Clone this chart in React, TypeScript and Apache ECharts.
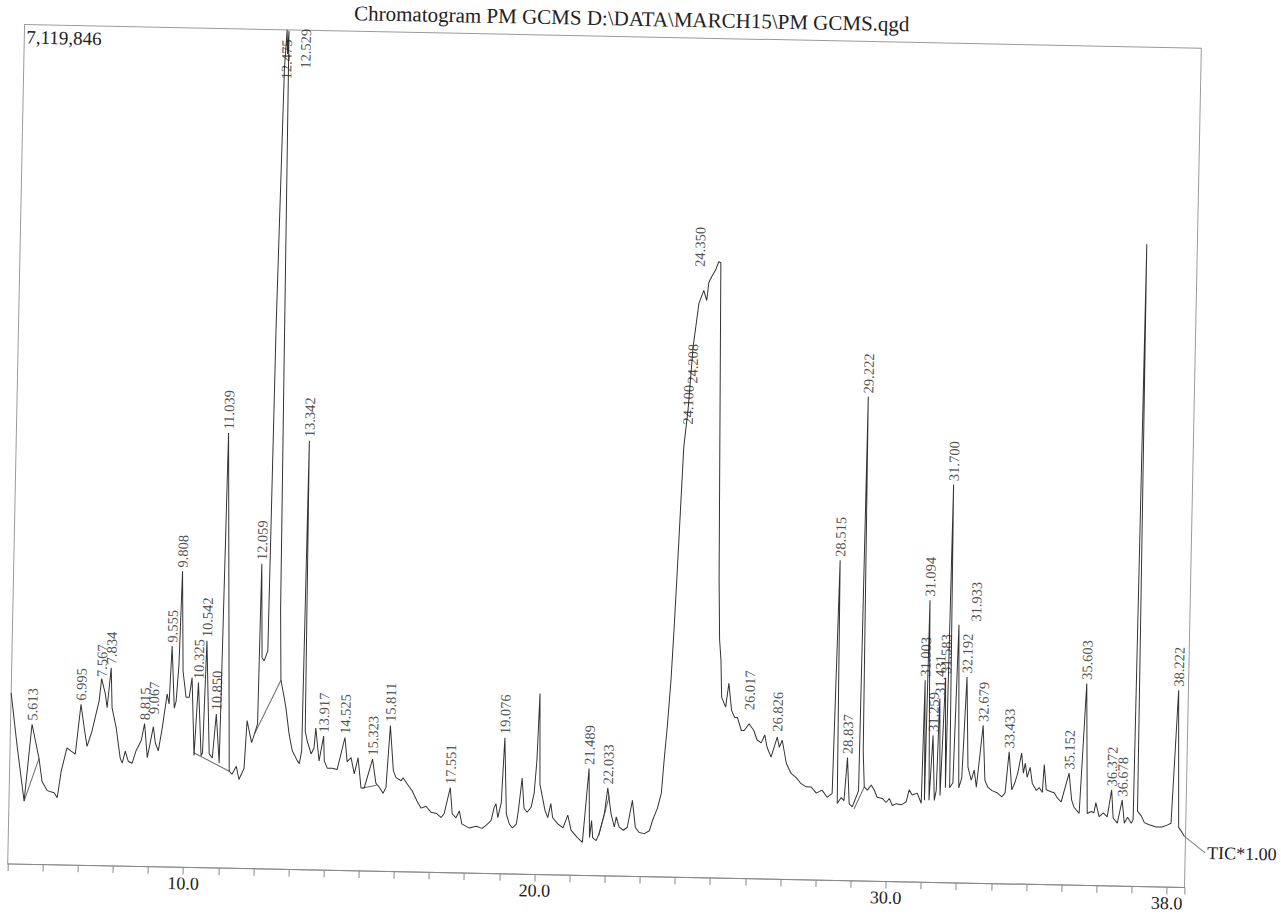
import { useEffect, useRef } from "react";
import * as echarts from "echarts";

const CHART_TITLE = "Chromatogram PM GCMS D:\\DATA\\MARCH15\\PM GCMS.qgd";
const FULL_SCALE = 7119846;
const FULL_SCALE_TEXT = "7,119,846";
const TRACE_NAME = "TIC*1.00";
const X_MIN = 5;
const X_MAX = 38.5;
const X_LABELED_TICKS = [10, 20, 30, 38];

// retention time (min)
const traceTimes = [
  5.0, 5.2, 5.43, 5.613, 5.83, 5.93, 6.08, 6.28, 6.37, 6.47, 6.62, 6.74, 6.86, 6.995, 7.1, 7.19, 7.32, 7.51, 7.567, 7.68,
  7.74, 7.834, 7.88, 8.01, 8.14, 8.2, 8.28, 8.37, 8.48, 8.59, 8.73, 8.815, 8.91, 9.067, 9.13, 9.22, 9.32, 9.44, 9.5, 9.555,
  9.65, 9.7, 9.76, 9.808, 9.88, 9.98, 10.07, 10.14, 10.24, 10.325, 10.44, 10.48, 10.542, 10.67, 10.76, 10.85, 10.96, 11.039, 11.25, 11.33,
  11.45, 11.53, 11.67, 11.73, 11.87, 11.95, 12.03, 12.059, 12.12, 12.18, 12.28, 12.33, 12.42, 12.475, 12.5, 12.529, 12.58, 12.62, 12.67, 12.77,
  12.83, 12.93, 13.03, 13.18, 13.24, 13.3, 13.342, 13.39, 13.45, 13.57, 13.65, 13.69, 13.8, 13.917, 13.95, 14.04, 14.18, 14.32, 14.525, 14.6,
  14.71, 14.81, 14.91, 15.01, 15.1, 15.323, 15.43, 15.53, 15.64, 15.72, 15.811, 15.92, 16.0, 16.15, 16.2, 16.32, 16.47, 16.61, 16.73, 16.87,
  17.02, 17.17, 17.31, 17.39, 17.551, 17.62, 17.73, 17.82, 17.9, 18.11, 18.31, 18.48, 18.62, 18.73, 18.81, 18.86, 18.92, 19.01, 19.076, 19.16,
  19.25, 19.34, 19.45, 19.5, 19.59, 19.66, 19.75, 19.86, 19.94, 20.0, 20.05, 20.1, 20.26, 20.34, 20.42, 20.48, 20.63, 20.78, 20.91, 21.01,
  21.19, 21.34, 21.489, 21.54, 21.59, 21.63, 21.73, 21.81, 21.95, 22.033, 22.14, 22.24, 22.29, 22.38, 22.5, 22.61, 22.74, 22.84, 22.95, 23.1,
  23.24, 23.32, 23.46, 23.56, 23.62, 23.69, 23.77, 23.83, 23.88, 24.0, 24.1, 24.208, 24.35, 24.48, 24.57, 24.62, 24.7, 24.81, 24.89, 24.95,
  25.08, 25.13, 25.18, 25.22, 25.34, 25.42, 25.51, 25.6, 25.68, 25.8, 25.88, 26.017, 26.16, 26.25, 26.37, 26.47, 26.54, 26.66, 26.826, 26.89,
  26.97, 27.1, 27.24, 27.39, 27.53, 27.68, 27.82, 27.97, 28.13, 28.28, 28.42, 28.515, 28.57, 28.68, 28.76, 28.837, 28.91, 29.0, 29.17, 29.222,
  29.28, 29.33, 29.42, 29.53, 29.62, 29.7, 29.85, 29.96, 30.05, 30.14, 30.25, 30.39, 30.53, 30.61, 30.7, 30.84, 30.96, 31.003, 31.05, 31.094,
  31.18, 31.259, 31.33, 31.38, 31.431, 31.49, 31.583, 31.64, 31.7, 31.76, 31.85, 31.933, 32.02, 32.1, 32.192, 32.27, 32.37, 32.45, 32.52, 32.679,
  32.76, 32.85, 32.97, 33.11, 33.25, 33.34, 33.433, 33.53, 33.61, 33.69, 33.79, 33.85, 33.9, 33.96, 34.04, 34.11, 34.23, 34.31, 34.4, 34.44,
  34.51, 34.65, 34.74, 34.83, 34.94, 35.152, 35.24, 35.31, 35.46, 35.603, 35.69, 35.8, 35.88, 35.93, 36.03, 36.15, 36.26, 36.372, 36.43, 36.55,
  36.678, 36.75, 36.84, 36.95, 37.0, 37.06, 37.12, 37.23, 37.32, 37.46, 37.66, 37.83, 37.97, 38.08, 38.222, 38.3, 38.4, 38.47,
];

// total ion current, thousands of counts
const traceKCounts = [
  1451, 1001, 535, 1188, 900, 704, 628, 611, 569, 798, 993, 967, 942, 1366, 1163, 1010, 1137, 1400, 1587, 1460,
  1341, 1680, 1341, 1171, 916, 874, 976, 891, 874, 984, 1069, 1213, 925, 1188, 1052, 984, 1180, 1468, 1383, 1875,
  1349, 1409, 1723, 2512, 1663, 1443, 1443, 1612, 950, 1570, 950, 976, 1926, 967, 933, 1307, 891, 3691, 823, 798,
  866, 755, 849, 1256, 1069, 1146, 1230, 2588, 1791, 1765, 1850, 4582, 6789, 7119.8, 6916, 7111, 4243, 2206, 1604, 1460,
  1366, 1154, 1010, 925, 900, 1010, 3640, 1180, 1095, 984, 1035, 1205, 925, 1137, 925, 866, 866, 857, 1129, 925,
  959, 823, 959, 704, 704, 950, 747, 713, 662, 713, 1239, 857, 798, 772, 798, 747, 687, 603, 543, 560,
  509, 501, 467, 501, 721, 501, 467, 526, 416, 382, 399, 382, 416, 450, 560, 594, 475, 603, 1154, 509,
  424, 390, 424, 535, 815, 560, 526, 569, 687, 967, 1536, 764, 543, 484, 603, 484, 433, 399, 509, 382,
  322, 280, 908, 322, 467, 322, 297, 356, 526, 747, 526, 416, 501, 416, 390, 416, 645, 416, 373, 365,
  390, 475, 586, 713, 993, 1273, 1672, 2122, 2546, 3649, 3963, 4498, 4871, 4981, 4896, 5049, 5100, 5160, 5227, 5219,
  2546, 2020, 1850, 1536, 1451, 1655, 1426, 1366, 1366, 1256, 1256, 1315, 1256, 1180, 1154, 1222, 1120, 1035, 1205, 1120,
  1180, 984, 900, 866, 815, 789, 789, 738, 764, 704, 738, 2716, 653, 704, 679, 1044, 653, 628, 764, 4107,
  1103, 798, 772, 815, 772, 713, 704, 670, 704, 645, 662, 653, 679, 781, 738, 755, 670, 1714, 696, 2393,
  696, 1247, 696, 781, 1561, 738, 1740, 806, 3377, 806, 849, 2189, 806, 891, 1748, 984, 874, 959, 815, 1341,
  874, 815, 789, 772, 738, 772, 1120, 798, 857, 942, 1112, 942, 1027, 908, 993, 857, 798, 823, 781, 1018,
  806, 789, 781, 738, 704, 950, 721, 662, 611, 1714, 611, 628, 619, 704, 586, 619, 586, 815, 577, 535,
  730, 535, 586, 535, 569, 5448, 640, 600, 543, 526, 509, 509, 526, 543, 1672, 509, 467, 433,
];

// labelled peaks: retention time (min) and apex height (thousands of counts)
const peakTimes = [
  5.613, 6.995, 7.567, 7.834, 8.815, 9.067, 9.555, 9.808, 10.325, 10.542, 10.85, 11.039, 12.059, 12.475, 12.529, 13.342,
  13.917, 14.525, 15.323, 15.811, 17.551, 19.076, 21.489, 22.033, 24.1, 24.208, 24.35, 26.017, 26.826, 28.515, 28.837, 29.222,
  31.003, 31.094, 31.259, 31.431, 31.583, 31.7, 31.933, 32.192, 32.679, 33.433, 35.152, 35.603, 36.372, 36.678, 38.222,
];
const peakKCounts = [
  1188, 1366, 1570, 1680, 1213, 1264, 1875, 2512, 1570, 1926, 1307, 3691, 2588, 6670, 6763, 3640,
  1137, 1129, 950, 1239, 721, 1154, 908, 747, 3810, 4158, 5151, 1400, 1222, 2716, 1044, 4107,
  1714, 2393, 1247, 1561, 1740, 3377, 2189, 1748, 1341, 1120, 950, 1714, 815, 730, 1672,
];

// integration baselines drawn under some peaks: start/end time (min) and level (thousands of counts)
const baselineStartTimes = [5.43, 10.22, 11.95, 15.05, 21.8, 29.05];
const baselineStartKCounts = [535, 976, 1146, 704, 340, 610];
const baselineEndTimes = [5.83, 11.25, 12.67, 15.45, 22.08, 29.33];
const baselineEndKCounts = [900, 823, 1604, 730, 680, 798];

// sideways nudges (px) for crowded peak labels
const LABEL_NUDGE: Record<string, number> = { "12.529": 17, "31.933": 17 };

const SERIF = "'Liberation Serif', 'Times New Roman', serif";
const INK = "#222";

export default function App() {
  const ref = useRef<HTMLDivElement>(null);

  useEffect(() => {
    if (!ref.current) return;
    const chart = echarts.init(ref.current, undefined, { renderer: "svg" });

    const traceData = traceTimes.map((t, i) => [t, traceKCounts[i] * 1000]);
    const peakData = peakTimes.map((t, i) => {
      const text = t.toFixed(3);
      // labels are rotated 90deg, so the local y offset moves them sideways on screen
      return {
        name: text,
        value: [t, peakKCounts[i] * 1000],
        label: { offset: [0, LABEL_NUDGE[text] || 0] },
      };
    });
    const baselineSeries = baselineStartTimes.map((t, i) => ({
      type: "line",
      data: [
        [t, baselineStartKCounts[i] * 1000],
        [baselineEndTimes[i], baselineEndKCounts[i] * 1000],
      ],
      showSymbol: false,
      symbol: "none",
      lineStyle: { color: "#6a6a6a", width: 1 },
      z: 2,
      silent: true,
    }));

    chart.setOption({
      animation: false,
      backgroundColor: "#fff",
      grid: {
        left: 16,
        top: 37,
        width: 1177,
        height: 839.5,
        show: true,
        borderColor: "#9a9a9a",
        borderWidth: 1,
      },
      xAxis: {
        type: "value",
        min: X_MIN,
        max: X_MAX,
        interval: 1,
        position: "bottom",
        axisLine: { show: true, onZero: false, lineStyle: { color: "#888", width: 1 } },
        axisTick: { show: true, length: 7, lineStyle: { color: "#888", width: 1 } },
        axisLabel: {
          margin: 7,
          fontFamily: SERIF,
          fontSize: 18,
          color: INK,
          formatter: (v: number) =>
            X_LABELED_TICKS.some((l) => Math.abs(l - v) < 1e-6) ? v.toFixed(1) : "",
        },
        splitLine: { show: false },
      },
      yAxis: { type: "value", min: 0, max: FULL_SCALE, show: false, splitLine: { show: false } },
      series: [
        {
          type: "line",
          name: TRACE_NAME,
          data: traceData,
          showSymbol: false,
          symbol: "none",
          lineStyle: { color: "#333", width: 1 },
          z: 3,
        },
        ...baselineSeries,
        {
          type: "scatter",
          data: peakData,
          symbolSize: 1,
          itemStyle: { color: "rgba(0,0,0,0)" },
          z: 4,
          label: {
            show: true,
            formatter: (p: any) => p.name,
            position: "top",
            distance: 3,
            rotate: 90,
            align: "left",
            verticalAlign: "middle",
            fontFamily: SERIF,
            fontSize: 14.5,
            color: INK,
          },
        },
      ],
      graphic: [
        {
          id: "title",
          type: "text",
          x: 623,
          y: 19,
          style: {
            text: CHART_TITLE,
            font: `21px ${SERIF}`,
            fill: INK,
            textAlign: "center",
            align: "center",
            textVerticalAlign: "middle",
            verticalAlign: "middle",
          },
        },
        {
          id: "fullscale",
          type: "text",
          x: 18,
          y: 40,
          style: {
            text: FULL_SCALE_TEXT,
            font: `19px ${SERIF}`,
            fill: INK,
            textAlign: "left",
            align: "left",
            textVerticalAlign: "top",
            verticalAlign: "top",
          },
        },
      ],
    });

    const last = traceData[traceData.length - 1];
    const pt = chart.convertToPixel({ gridIndex: 0 }, last) as number[];
    if (pt && isFinite(pt[0])) {
      chart.setOption({
        graphic: [
          {
            id: "ticLeader",
            type: "line",
            shape: { x1: pt[0], y1: pt[1], x2: pt[0] + 21, y2: pt[1] + 16 },
            style: { stroke: "#777", lineWidth: 1 },
          },
          {
            id: "ticLabel",
            type: "text",
            x: pt[0] + 23,
            y: pt[1] + 16,
            style: {
              text: TRACE_NAME,
              font: `18px ${SERIF}`,
              fill: INK,
              textAlign: "left",
              align: "left",
              textVerticalAlign: "middle",
              verticalAlign: "middle",
            },
          },
        ],
      });
    }

    return () => chart.dispose();
  }, []);

  return (
    <div
      style={{
        position: "fixed",
        left: 0,
        top: 0,
        width: 1281,
        height: 915,
        overflow: "hidden",
        background: "#fff",
      }}
    >
      <div
        ref={ref}
        style={{
          position: "absolute",
          left: 0,
          top: 0,
          width: 1300,
          height: 915,
          transform: "rotate(1.15deg)",
          transformOrigin: "640.5px 457.5px",
        }}
      />
    </div>
  );
}
